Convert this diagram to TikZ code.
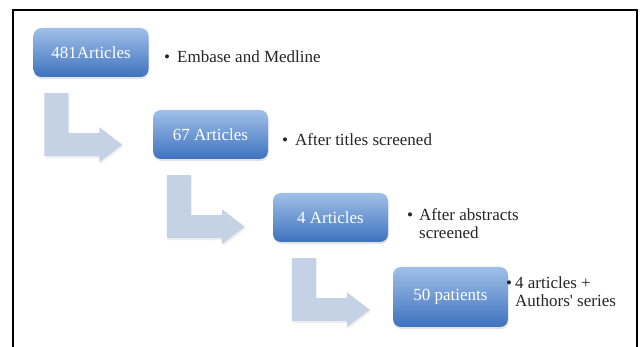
\documentclass[tikz,border=0pt]{standalone}
\usepackage{fontspec}
\setmainfont{LiberationSerif}[Extension=.ttf, UprightFont=*-Regular, BoldFont=*-Bold]
\usetikzlibrary{shadows}
\definecolor{arrowfill}{RGB}{197,209,228}
\definecolor{boxtop}{RGB}{160,192,232}
\definecolor{boxbot}{RGB}{62,114,190}
\tikzset{
  stagebox/.style={rounded corners=8pt, top color=boxtop, bottom color=boxbot, draw=none,
    text=white, minimum width=115pt, minimum height=49pt, inner sep=0pt,
    font=\rmfamily\fontsize{17}{18}\selectfont,
    drop shadow={opacity=0.22, shadow xshift=0.5pt, shadow yshift=-2pt}},
  notelabel/.style={anchor=base west, inner sep=0pt, font=\rmfamily\fontsize{17}{18}\selectfont, text=black!85},
  bentarrow/.style={fill=arrowfill, draw=none,
    drop shadow={opacity=0.12, shadow xshift=1pt, shadow yshift=-2pt}},
  barrow/.pic={\path[bentarrow] (0,0)--(24,0)--(24,40)--(55,40)--(55,34)--(78,51.5)--(55,69)--(55,63)--(0,63)--cycle;},
}
\begin{document}
\begin{tikzpicture}[x=1pt,y=-1pt]
\useasboundingbox (0,0) rectangle (641,347);
\fill[white] (0,0) rectangle (641,347);
% frame (open at bottom)
\draw[line width=2pt] (13,348) -- (13,10.5) -- (636.5,10.5) -- (636.5,348);
% stage boxes
\node[stagebox] (b1) at (91,52.5) {481Articles};
\node[stagebox] (b2) at (210.5,134.5) {67 Articles};
\node[stagebox] (b3) at (330.5,217.5) {4 Articles};
\node[stagebox, minimum height=60pt] (b4) at (450.5,297) {50 patients};
% bent arrows
\pic at ([shift={(11,16)}]b1.south west) {barrow};
\pic at ([shift={(14,16)}]b2.south west) {barrow};
\pic at ([shift={(19,16)}]b3.south west) {barrow};
% labels
\node[notelabel] (l1) at (164,62.3) {\textbullet\hspace*{7pt}Embase and Medline};
\node[notelabel] (l2) at (282,146) {\textbullet\hspace*{7pt}After titles screened};
\node[notelabel] (l3) at (407,221) {\textbullet\hspace*{6pt}\begin{tabular}[t]{@{}l@{}}After abstracts\\screened\end{tabular}};
\node[notelabel] (l4) at (506,289) {\textbullet\hspace*{3pt}\begin{tabular}[t]{@{}l@{}}4 articles +\\Authors\textquotesingle{} series\end{tabular}};
\end{tikzpicture}
\end{document}
